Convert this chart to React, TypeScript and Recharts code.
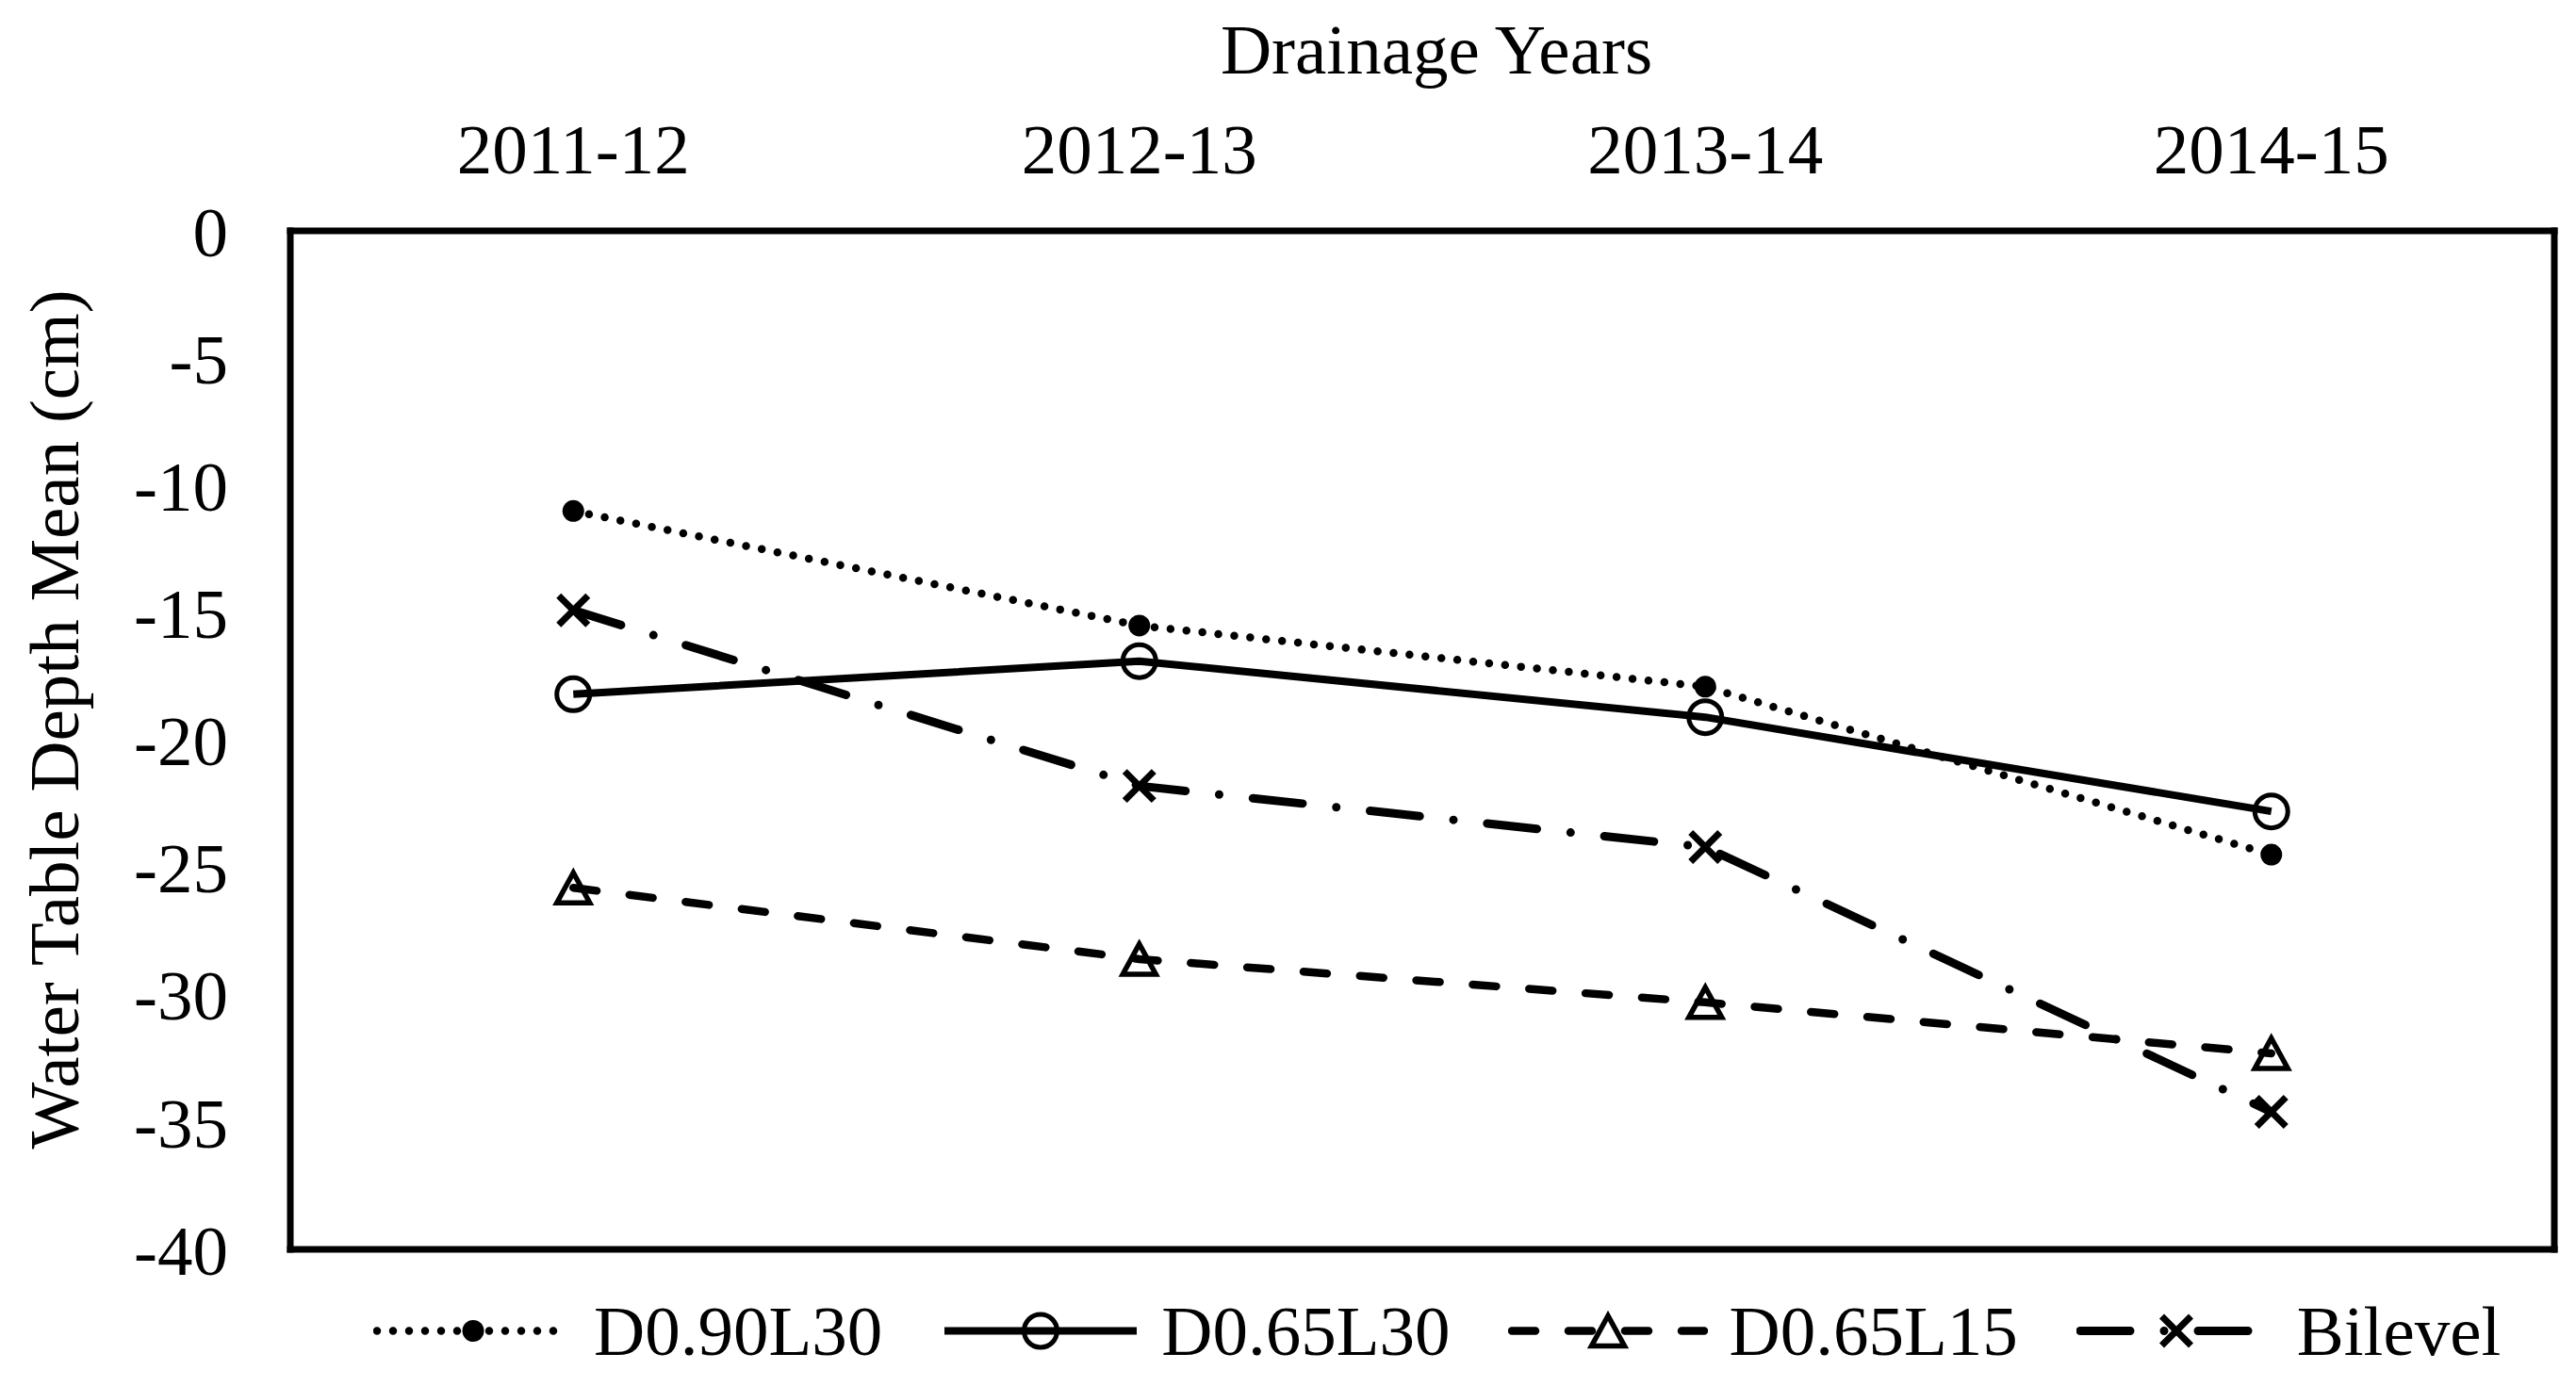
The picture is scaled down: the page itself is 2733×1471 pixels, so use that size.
import React from 'react';
import { LineChart, Line, XAxis, YAxis, Legend } from 'recharts';

const YEARS = ['2011-12', '2012-13', '2013-14', '2014-15'];
const D090L30 = [-11.0, -15.5, -17.9, -24.5];
const D065L30 = [-18.2, -16.9, -19.1, -22.8];
const D065L15 = [-25.8, -28.6, -30.3, -32.3];
const BILEVEL = [-14.9, -21.8, -24.2, -34.6];
const Y_TICKS = [0, -5, -10, -15, -20, -25, -30, -35, -40];
const SERIES_NAMES = ['D0.90L30', 'D0.65L30', 'D0.65L15', 'Bilevel'];

const data = YEARS.map((year, i) => ({
  year,
  D090L30: D090L30[i],
  D065L30: D065L30[i],
  D065L15: D065L15[i],
  Bilevel: BILEVEL[i],
}));

const FONT = "'Liberation Serif', 'Times New Roman', serif";
const W = 2717;
const H = 1455;

type MarkerKind = 'dot' | 'circle' | 'triangle' | 'cross';

const drawMarker = (kind: MarkerKind, cx: number, cy: number, key?: any) => {
  if (kind === 'dot') {
    return <circle key={key} cx={cx} cy={cy} r={11.5} fill="#000" stroke="none" />;
  }
  if (kind === 'circle') {
    return <circle key={key} cx={cx} cy={cy} r={17.5} fill="none" stroke="#000" strokeWidth={5} />;
  }
  if (kind === 'triangle') {
    const p = `${cx},${cy - 16} ${cx - 17.5},${cy + 16} ${cx + 17.5},${cy + 16}`;
    return <polygon key={key} points={p} fill="none" stroke="#000" strokeWidth={5.5} strokeLinejoin="miter" />;
  }
  const s = 15.5;
  return (
    <g key={key}>
      <line x1={cx - s} y1={cy - s} x2={cx + s} y2={cy + s} stroke="#000" strokeWidth={7} />
      <line x1={cx - s} y1={cy + s} x2={cx + s} y2={cy - s} stroke="#000" strokeWidth={7} />
    </g>
  );
};

const SERIES = [
  { key: 'D090L30', name: SERIES_NAMES[0], width: 8.5, dash: '0 17', marker: 'dot' as MarkerKind },
  { key: 'D065L30', name: SERIES_NAMES[1], width: 8, dash: undefined, marker: 'circle' as MarkerKind },
  { key: 'D065L15', name: SERIES_NAMES[2], width: 8.5, dash: '25 35', marker: 'triangle' as MarkerKind },
  { key: 'Bilevel', name: SERIES_NAMES[3], width: 9, dash: '53 36 0 36', marker: 'cross' as MarkerKind },
];

const makeDot = (kind: MarkerKind) => (props: any) => {
  const { cx, cy, index } = props;
  if (cx == null || cy == null) return <g key={`e${index}`} />;
  return drawMarker(kind, cx, cy, `${kind}-${index}`);
};

const LegendContent = () => (
  <div
    style={{
      display: 'flex',
      alignItems: 'flex-start',
      paddingLeft: 388,
      fontFamily: FONT,
      fontSize: 75,
      color: '#000',
    }}
  >
    {SERIES.map((s, i) => (
      <div key={s.key} style={{ display: 'flex', alignItems: 'flex-start', marginRight: i < 3 ? 62 : 0 }}>
        <svg width={212} height={75} style={{ display: 'block' }}>
          <line
            x1={4}
            y1={37.5}
            x2={208}
            y2={37.5}
            stroke="#000"
            strokeWidth={s.width}
            strokeDasharray={s.dash}
            strokeLinecap={s.dash ? 'round' : 'butt'}
          />
          {drawMarker(s.marker, 106, 37.5)}
        </svg>
        <span style={{ marginLeft: 22, lineHeight: '75px', whiteSpace: 'nowrap' }}>{s.name}</span>
      </div>
    ))}
  </div>
);

const axisLineStyle = { stroke: '#000', strokeWidth: 7, strokeLinecap: 'square' as const };
const tickStyle = { fontSize: 75, fill: '#000', fontFamily: FONT };

const XTitle = (props: any) => {
  const vb = props.viewBox || {};
  return (
    <text
      x={vb.x + vb.width / 2 + 15}
      y={vb.y + 70}
      textAnchor="middle"
      fontSize={75}
      fontFamily={FONT}
      fill="#000"
    >
      Drainage Years
    </text>
  );
};

const YTitle = (props: any) => {
  const vb = props.viewBox || {};
  const x = vb.x + 75;
  const y = vb.y + vb.height / 2 - 22;
  return (
    <text
      x={x}
      y={y}
      transform={`rotate(-90, ${x}, ${y})`}
      textAnchor="middle"
      fontSize={75}
      fontFamily={FONT}
      fill="#000"
    >
      Water Table Depth Mean (cm)
    </text>
  );
};

export default function App() {
  return (
    <div style={{ width: W, height: H, position: 'relative', background: '#fff' }}>
      <LineChart width={W} height={H} data={data} margin={{ top: 0, right: 14, bottom: 136, left: 0 }}>
        <XAxis
          dataKey="year"
          orientation="top"
          scale="band"
          height={237}
          interval={0}
          tickLine={false}
          tickSize={0}
          tickMargin={61}
          axisLine={axisLineStyle}
          tick={tickStyle}
          label={{ content: XTitle }}
        />
        <XAxis
          xAxisId="b"
          dataKey="year"
          orientation="bottom"
          scale="band"
          height={1}
          tick={false}
          tickLine={false}
          axisLine={axisLineStyle}
        />
        <YAxis
          type="number"
          domain={[-40, 0]}
          ticks={Y_TICKS}
          interval={0}
          width={300}
          tickLine={false}
          tickSize={0}
          tickMargin={66}
          axisLine={axisLineStyle}
          tick={tickStyle}
          allowDataOverflow
          label={{ content: YTitle }}
        />
        <YAxis
          yAxisId="r"
          orientation="right"
          type="number"
          domain={[-40, 0]}
          width={1}
          tick={false}
          tickLine={false}
          axisLine={axisLineStyle}
        />
        {SERIES.map((s) => (
          <Line
            key={s.key}
            type="linear"
            dataKey={s.key}
            name={s.name}
            stroke="#000"
            strokeWidth={s.width}
            strokeDasharray={s.dash}
            strokeLinecap={s.dash ? 'round' : 'butt'}
            strokeLinejoin="round"
            dot={makeDot(s.marker)}
            activeDot={false}
            isAnimationActive={false}
          />
        ))}
        <Legend
          layout="horizontal"
          verticalAlign="middle"
          align="center"
          content={LegendContent}
          wrapperStyle={{ position: 'absolute', top: 1367, left: 0, width: W, height: 75 }}
        />
      </LineChart>
    </div>
  );
}
